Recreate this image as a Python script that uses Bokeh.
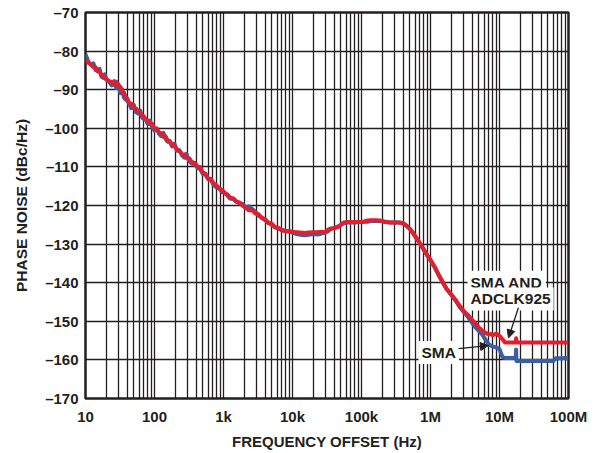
from bokeh.plotting import figure
from bokeh.models import FixedTicker, Label, Arrow, NormalHead, Range1d
from bokeh.embed import file_html
from bokeh.resources import INLINE

# ---- data ----
freq = [10, 11, 12, 13, 14, 15, 16, 17, 18, 19,
        20, 22, 24, 26, 28, 30, 32, 34, 36, 38,
        40, 43, 46, 50, 54, 58, 62, 66, 70, 75,
        80, 86, 92, 100, 108, 116, 125, 135, 145, 155,
        165, 180, 195, 210, 230, 250, 270, 290, 320, 350,
        380, 420, 460, 500, 550, 600, 660, 720, 800, 880,
        960, 1050, 1150, 1250, 1400, 1550, 1700, 1900, 2100, 2300,
        2600, 2900, 3200, 3600, 4000, 4500, 5000, 5600, 6300, 7000,
        8000, 9000, 10000, 11500, 13000, 15000, 17000, 20000, 23000, 26000,
        30000, 33000, 36000, 40000, 45000, 50000, 55000, 62000, 70000, 80000,
        90000, 100000, 120000, 140000, 160000, 190000, 220000, 260000, 300000, 350000,
        400000, 450000, 500000, 560000, 630000, 700000, 800000, 900000, 1e6, 1.15e6,
        1.3e6, 1.5e6, 1.7e6, 2e6, 2.3e6, 2.7e6, 3.1e6, 3.5e6, 4e6, 4.5e6,
        5e6, 5.6e6, 6.3e6, 7e6, 7.5e6, 8e6, 9e6, 1e7, 1.1e7, 1.2e7,
        1.4e7, 1.72e7, 1.74e7, 1.76e7, 2e7, 2.5e7, 3e7, 4e7, 5e7, 6e7,
        6.5e7, 7e7, 8e7, 9e7, 1e8]

sma = [-80.8, -82.8, -83.6, -83.2, -84.9, -85.2, -84.6, -86.6, -86.9, -86.0,
       -87.4, -87.9, -88.9, -87.8, -89.6, -88.6, -90.9, -89.9, -92.0, -92.5,
       -92.8, -93.6, -94.8, -93.9, -95.8, -96.2, -95.4, -97.2, -97.6, -97.7,
       -98.9, -98.0, -99.6, -100.6, -100.0, -101.4, -102.0, -101.2, -102.8, -103.5,
       -103.4, -104.7, -104.0, -105.8, -105.7, -107.0, -107.6, -106.6, -108.6, -109.2,
       -109.0, -110.2, -110.6, -111.8, -112.1, -113.2, -113.4, -114.7, -115.4, -115.6,
       -116.6, -116.7, -117.5, -118.2, -118.4, -119.1, -119.4, -119.6, -120.7, -120.2,
       -120.9, -121.6, -122.6, -123.2, -123.8, -124.5, -125.0, -125.6, -126.0, -126.3,
       -126.6, -126.8, -127.0, -127.4, -127.6, -127.7, -127.6, -127.4, -127.5, -127.3,
       -127.0, -126.6, -126.0, -125.8, -125.5, -125.1, -124.6, -124.4, -124.4, -124.4,
       -124.3, -124.3, -124.2, -124.0, -124.0, -124.0, -124.2, -124.4, -124.4, -124.4,
       -124.6, -125.3, -126.0, -127.2, -128.6, -129.8, -131.5, -133.0, -134.2, -136.0,
       -137.9, -139.9, -141.6, -143.2, -144.6, -146.5, -147.8, -148.9, -150.4, -151.6,
       -152.5, -153.4, -154.8, -156.0, -156.3, -156.5, -156.8, -157.2, -159.2, -159.5,
       -159.5, -159.5, -157.3, -160.3, -160.3, -160.3, -160.3, -160.3, -160.3, -160.3,
       -159.6, -159.6, -159.6, -159.5, -159.5]

sma_adclk = [-82.2, -83.0, -83.4, -84.2, -84.2, -85.2, -85.4, -86.2, -86.4, -87.0,
             -87.2, -87.8, -88.0, -88.7, -87.9, -88.9, -89.2, -90.7, -90.7, -91.8,
             -92.2, -93.4, -93.6, -94.7, -94.9, -95.6, -96.0, -96.7, -96.9, -97.8,
             -98.0, -98.9, -98.8, -100.0, -100.2, -101.0, -101.3, -102.2, -102.1, -103.2,
             -103.2, -104.3, -104.5, -105.4, -105.8, -106.7, -106.8, -107.7, -107.8, -108.8,
             -108.9, -109.9, -110.1, -111.4, -111.8, -113.0, -113.2, -114.3, -114.8, -115.7,
             -116.0, -116.9, -117.2, -118.0, -118.2, -119.0, -119.2, -120.1, -120.4, -121.2,
             -121.2, -122.1, -122.2, -123.2, -123.5, -124.6, -124.7, -125.7, -125.8, -126.5,
             -126.6, -126.7, -126.8, -126.9, -127.0, -127.1, -127.0, -126.9, -126.9, -126.8,
             -126.9, -126.2, -126.0, -125.9, -125.6, -125.0, -124.4, -124.3, -124.3, -124.3,
             -124.3, -124.3, -123.9, -123.8, -123.8, -123.9, -124.3, -124.4, -124.4, -124.4,
             -124.6, -125.2, -126.0, -127.1, -128.5, -129.7, -131.4, -132.9, -134.1, -135.9,
             -137.8, -139.8, -141.5, -143.0, -144.4, -146.2, -147.5, -148.4, -149.6, -150.6,
             -151.6, -152.4, -153.0, -153.4, -153.3, -153.6, -153.2, -153.8, -154.6, -155.5,
             -155.5, -155.5, -154.4, -155.5, -155.5, -155.5, -155.5, -155.5, -155.5, -155.5,
             -155.5, -155.5, -155.5, -155.5, -155.5]

x_ticks = [10, 100, 1e3, 1e4, 1e5, 1e6, 1e7, 1e8]
x_tick_labels = ["10", "100", "1k", "10k", "100k", "1M", "10M", "100M"]
y_ticks = [-170, -160, -150, -140, -130, -120, -110, -100, -90, -80, -70]
y_tick_labels = ["\u2013170", "\u2013160", "\u2013150", "\u2013140", "\u2013130", "\u2013120",
                 "\u2013110", "\u2013100", "\u201390", "\u201380", "\u201370"]

assert len(freq) == len(sma) == len(sma_adclk)

BLUE = "#3a5fa5"
RED = "#e31e2d"
INK = "#231f20"
FONT = "Liberation Sans"

p = figure(width=596, height=453, x_axis_type="log",
           x_range=Range1d(10, 1e8), y_range=Range1d(-170, -70),
           output_backend="svg", toolbar_location=None,
           min_border_left=85, min_border_top=12, min_border_right=28, min_border_bottom=55)

minor = [m * d for d in x_ticks[:-1] for m in range(2, 10)]
p.xaxis.ticker = FixedTicker(ticks=x_ticks, minor_ticks=minor)
p.yaxis.ticker = FixedTicker(ticks=y_ticks)
p.xaxis.major_label_overrides = {t: l for t, l in zip(x_ticks, x_tick_labels)}
p.yaxis.major_label_overrides = {t: l for t, l in zip(y_ticks, y_tick_labels)}

for ax in (p.xaxis, p.yaxis):
    ax.major_tick_in = 0
    ax.major_tick_out = 0
    ax.minor_tick_in = 0
    ax.minor_tick_out = 0
    ax.axis_line_color = None
    ax.major_label_text_font = FONT
    ax.major_label_text_font_style = "bold"
    ax.major_label_text_font_size = "15px"
    ax.major_label_text_color = INK
    ax.axis_label_text_font = FONT
    ax.axis_label_text_font_style = "bold"
    ax.axis_label_text_color = INK

p.xaxis.axis_label = "FREQUENCY OFFSET (Hz)"
p.yaxis.axis_label = "PHASE NOISE (dBc/Hz)"
p.xaxis.axis_label_text_font_size = "15px"
p.yaxis.axis_label_text_font_size = "15.5px"
p.xaxis.major_label_standoff = 9
p.yaxis.major_label_standoff = 7
p.xaxis.axis_label_standoff = 5
p.yaxis.axis_label_standoff = 12

p.xgrid.grid_line_color = INK
p.xgrid.grid_line_width = 1.3
p.xgrid.minor_grid_line_color = INK
p.xgrid.minor_grid_line_width = 1.3
p.ygrid.grid_line_color = INK
p.ygrid.grid_line_width = 1.3

p.outline_line_color = INK
p.outline_line_width = 2.5

p.line(freq, sma, line_color=BLUE, line_width=4, line_join="round")
p.line(freq, sma_adclk, line_color=RED, line_width=4, line_join="round")

# annotations
lab_kw = dict(text_font=FONT, text_font_style="bold", text_font_size="15.5px",
              text_color=INK, background_fill_color="white",
              text_baseline="middle", text_align="left", padding=3)
p.add_layout(Label(x=3.44e6, y=-139.9, text="SMA AND", **lab_kw))
p.add_layout(Label(x=3.44e6, y=-144.2, text="ADCLK925", **lab_kw))
p.add_layout(Label(x=6.7e5, y=-158.1, text="SMA", **lab_kw))

head = dict(size=8, fill_color=INK, line_color=INK)
p.add_layout(Arrow(end=NormalHead(**head), x_start=1.88e7, y_start=-146.5,
                   x_end=1.35e7, y_end=-154.3, line_width=1.3, line_color=INK))
p.add_layout(Arrow(end=NormalHead(**head), x_start=2.55e6, y_start=-157.1,
                   x_end=6.9e6, y_end=-156.3, line_width=1.3, line_color=INK))

open("out.html", "w").write(file_html(p, INLINE))
